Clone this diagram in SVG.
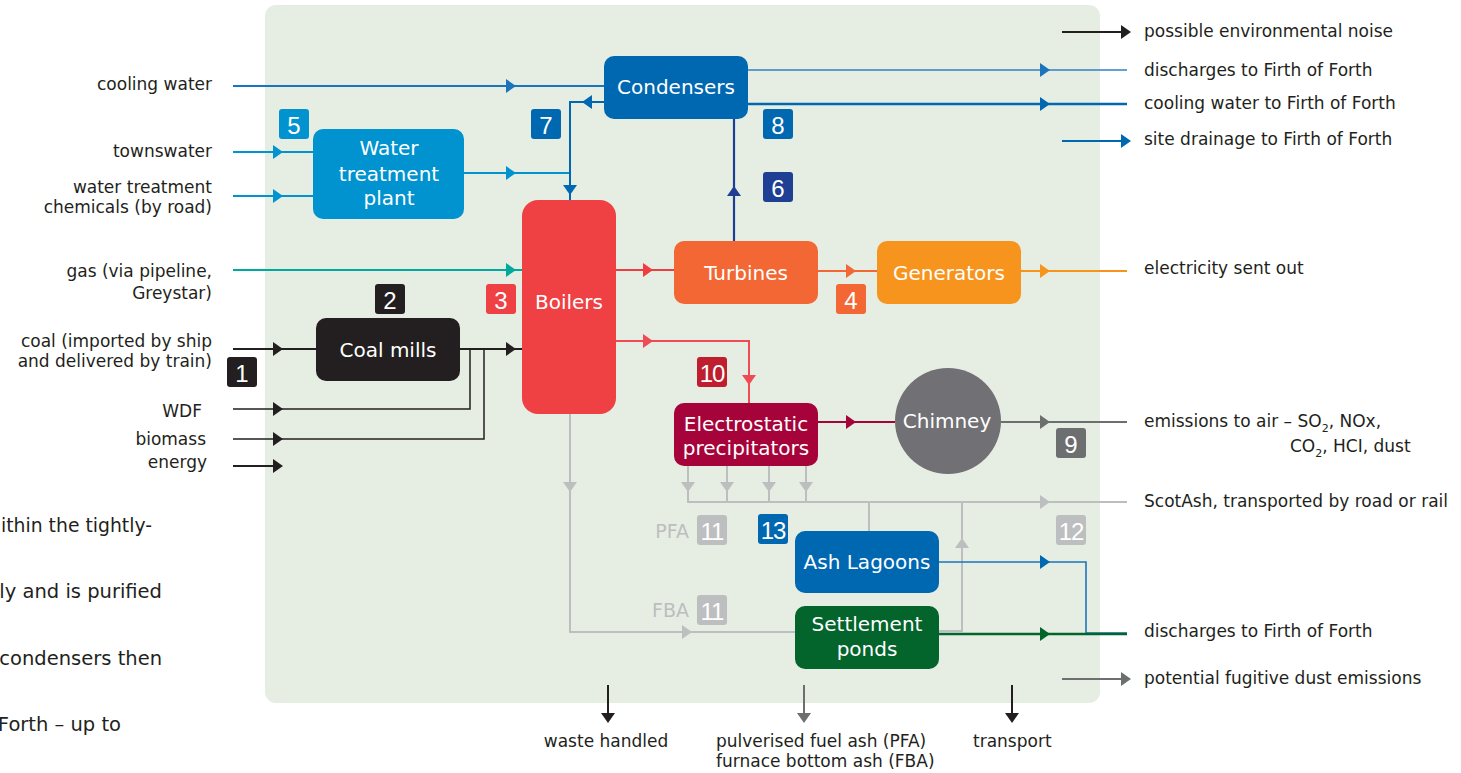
<svg xmlns="http://www.w3.org/2000/svg" xmlns:xlink="http://www.w3.org/1999/xlink" width="1461" height="773" viewBox="0 0 1461 773">
<style>
.t{font-family:"DejaVu Sans","Liberation Sans",sans-serif;font-size:17px;fill:#231f20}
.p{font-family:"DejaVu Sans","Liberation Sans",sans-serif;font-size:19.5px;fill:#231f20}
.n{font-family:"DejaVu Sans","Liberation Sans",sans-serif;font-size:20px;fill:#ffffff;text-anchor:middle}
.b{font-family:"Liberation Sans","DejaVu Sans",sans-serif;font-size:24px;fill:#ffffff;text-anchor:middle}
.g{font-family:"DejaVu Sans","Liberation Sans",sans-serif;font-size:19px;fill:#bcbec0;text-anchor:end}
.e{text-anchor:end}
.ln{fill:none;stroke-width:2}
</style>
<defs>
<path id="ah" d="M0,0 L-10,-7 L-10,7 Z"/>
</defs>
<rect x="265" y="5" width="835" height="698" rx="11" fill="#e6eee3"/>

<g id="side-text">
<text class="p" x="1" y="532" textLength="151" lengthAdjust="spacingAndGlyphs">ithin the tightly-</text>
<text class="p e" x="162" y="598">ly and is purified</text>
<text class="p e" x="162" y="665">condensers then</text>
<text class="p e" x="121" y="731">Forth – up to</text>
</g>

<g id="connectors">
<line class="ln" x1="233" y1="86" x2="604" y2="86" stroke="#1a75bc"/>
<use xlink:href="#ah" transform="translate(516,86)" fill="#1a75bc"/>
<line class="ln" x1="233" y1="152" x2="313" y2="152" stroke="#0093d0"/>
<use xlink:href="#ah" transform="translate(283,152)" fill="#0093d0"/>
<line class="ln" x1="233" y1="196" x2="313" y2="196" stroke="#0093d0"/>
<use xlink:href="#ah" transform="translate(283,196)" fill="#0093d0"/>
<line class="ln" x1="464" y1="173" x2="570" y2="173" stroke="#0093d0"/>
<use xlink:href="#ah" transform="translate(516,173)" fill="#0093d0"/>
<polyline class="ln" points="604,102 570,102 570,200" stroke="#0067b1"/>
<use xlink:href="#ah" transform="translate(582,102) rotate(180)" fill="#0067b1"/>
<use xlink:href="#ah" transform="translate(570,195) rotate(90)" fill="#0067b1"/>
<line x1="748" y1="70" x2="1127" y2="70" stroke="#2f82c4" stroke-width="1.6"/>
<use xlink:href="#ah" transform="translate(1050,70)" fill="#1a75bc"/>
<line x1="748" y1="104" x2="1127" y2="104" stroke="#0067b1" stroke-width="2.4"/>
<use xlink:href="#ah" transform="translate(1050,104)" fill="#0067b1"/>
<line x1="1062" y1="32" x2="1125" y2="32" stroke="#231f20" stroke-width="2"/>
<use xlink:href="#ah" transform="translate(1131,32)" fill="#231f20"/>
<line x1="1062" y1="141" x2="1125" y2="141" stroke="#0067b1" stroke-width="2"/>
<use xlink:href="#ah" transform="translate(1131,141)" fill="#0067b1"/>
<line x1="734" y1="118" x2="734" y2="241" stroke="#1e3f94" stroke-width="2.2"/>
<use xlink:href="#ah" transform="translate(734,186) rotate(-90)" fill="#1e3f94"/>
<line class="ln" x1="233" y1="270" x2="522" y2="270" stroke="#00a99d"/>
<use xlink:href="#ah" transform="translate(516,270)" fill="#00a99d"/>
<line class="ln" x1="616" y1="270" x2="674" y2="270" stroke="#ef3e42"/>
<use xlink:href="#ah" transform="translate(653,270)" fill="#ef3e42"/>
<line class="ln" x1="818" y1="271" x2="877" y2="271" stroke="#f26734"/>
<use xlink:href="#ah" transform="translate(856,271)" fill="#f26734"/>
<line class="ln" x1="1021" y1="271" x2="1127" y2="271" stroke="#f7941d"/>
<use xlink:href="#ah" transform="translate(1050,271)" fill="#f7941d"/>
<polyline class="ln" points="616,341 749,341 749,403" stroke="#ef4b55"/>
<use xlink:href="#ah" transform="translate(653,341)" fill="#ef4b55"/>
<use xlink:href="#ah" transform="translate(749,385) rotate(90)" fill="#ef4b55"/>
<line class="ln" x1="233" y1="349" x2="316" y2="349" stroke="#231f20"/>
<use xlink:href="#ah" transform="translate(283,349)" fill="#231f20"/>
<line class="ln" x1="460" y1="349" x2="522" y2="349" stroke="#231f20"/>
<use xlink:href="#ah" transform="translate(516,349)" fill="#231f20"/>
<polyline points="233,409 470,409 470,349" fill="none" stroke="#231f20" stroke-width="1.5"/>
<use xlink:href="#ah" transform="translate(283,409)" fill="#231f20"/>
<polyline points="233,439 484,439 484,349" fill="none" stroke="#231f20" stroke-width="1.5"/>
<use xlink:href="#ah" transform="translate(283,439)" fill="#231f20"/>
<line x1="233" y1="466" x2="276" y2="466" stroke="#231f20" stroke-width="2"/>
<use xlink:href="#ah" transform="translate(283,466)" fill="#231f20"/>
<line class="ln" x1="818" y1="422" x2="895" y2="422" stroke="#a6033a"/>
<use xlink:href="#ah" transform="translate(856,422)" fill="#a6033a"/>
<line class="ln" x1="1001" y1="422" x2="1127" y2="422" stroke="#6d6e70"/>
<use xlink:href="#ah" transform="translate(1050,422)" fill="#6d6e70"/>
<g stroke="#bcbec0" stroke-width="2" fill="none">
<polyline points="570,414 570,632 795,632"/>
<line x1="688" y1="466" x2="688" y2="502"/>
<line x1="727" y1="466" x2="727" y2="502"/>
<line x1="769" y1="466" x2="769" y2="502"/>
<line x1="806" y1="466" x2="806" y2="502"/>
<line x1="687" y1="502" x2="1127" y2="502"/>
<line x1="869" y1="502" x2="869" y2="531"/>
<polyline points="939,631 962,631 962,502"/>
</g>
<g fill="#bcbec0">
<use xlink:href="#ah" transform="translate(570,492) rotate(90)"/>
<use xlink:href="#ah" transform="translate(688,492) rotate(90)"/>
<use xlink:href="#ah" transform="translate(727,492) rotate(90)"/>
<use xlink:href="#ah" transform="translate(769,492) rotate(90)"/>
<use xlink:href="#ah" transform="translate(806,492) rotate(90)"/>
<use xlink:href="#ah" transform="translate(1050,502)"/>
<use xlink:href="#ah" transform="translate(692,632)"/>
<use xlink:href="#ah" transform="translate(962,538) rotate(-90)"/>
</g>
<polyline points="939,562 1086,562 1086,633 1127,633" fill="none" stroke="#1a75bc" stroke-width="1.6"/>
<use xlink:href="#ah" transform="translate(1050,562)" fill="#0067b1"/>
<line x1="939" y1="634" x2="1127" y2="634" stroke="#03642c" stroke-width="2.4"/>
<use xlink:href="#ah" transform="translate(1050,634)" fill="#03642c"/>
<line x1="1062" y1="679" x2="1125" y2="679" stroke="#6d6e70" stroke-width="2"/>
<use xlink:href="#ah" transform="translate(1131,679)" fill="#6d6e70"/>
<line x1="608" y1="685" x2="608" y2="716" stroke="#231f20" stroke-width="2"/>
<use xlink:href="#ah" transform="translate(608,723) rotate(90)" fill="#231f20"/>
<line x1="804" y1="685" x2="804" y2="716" stroke="#6d6e70" stroke-width="2"/>
<use xlink:href="#ah" transform="translate(804,723) rotate(90)" fill="#6d6e70"/>
<line x1="1012" y1="685" x2="1012" y2="716" stroke="#231f20" stroke-width="2"/>
<use xlink:href="#ah" transform="translate(1012,723) rotate(90)" fill="#231f20"/>
</g>

<g id="node-wtp"><rect x="313" y="129" width="151" height="90" rx="10" fill="#0093d0"/>
<text class="n" x="389" y="155">Water</text><text class="n" x="389" y="181">treatment</text><text class="n" x="389" y="205">plant</text></g>
<g id="node-condensers"><rect x="604" y="56" width="144" height="63" rx="10" fill="#0067b1"/>
<text class="n" x="676" y="94">Condensers</text></g>
<g id="node-boilers"><rect x="522" y="200" width="94" height="214" rx="16" fill="#ef4044"/>
<text class="n" x="569" y="309">Boilers</text></g>
<g id="node-turbines"><rect x="674" y="241" width="144" height="63" rx="10" fill="#f26734"/>
<text class="n" x="746" y="280">Turbines</text></g>
<g id="node-generators"><rect x="877" y="241" width="144" height="63" rx="10" fill="#f7941d"/>
<text class="n" x="949" y="280">Generators</text></g>
<g id="node-coalmills"><rect x="316" y="318" width="144" height="63" rx="10" fill="#231f20"/>
<text class="n" x="388" y="357">Coal mills</text></g>
<g id="node-esp"><rect x="674" y="403" width="144" height="63" rx="10" fill="#a6033a"/>
<text class="n" x="746" y="431">Electrostatic</text><text class="n" x="746" y="455">precipitators</text></g>
<g id="node-chimney"><circle cx="948" cy="421" r="53" fill="#717074"/>
<text class="n" x="947" y="428">Chimney</text></g>
<g id="node-ashlagoons"><rect x="795" y="531" width="144" height="62" rx="10" fill="#0067b1"/>
<text class="n" x="867" y="569">Ash Lagoons</text></g>
<g id="node-settlement"><rect x="795" y="606" width="144" height="63" rx="10" fill="#03642c"/>
<text class="n" x="867" y="631">Settlement</text><text class="n" x="867" y="656">ponds</text></g>

<g id="badges">
<rect x="279" y="109" width="30" height="30" rx="3" fill="#0093d0"/><text class="b" x="294" y="134">5</text>
<rect x="531" y="109" width="30" height="30" rx="3" fill="#0067b1"/><text class="b" x="546" y="134">7</text>
<rect x="763" y="109" width="30" height="30" rx="3" fill="#0067b1"/><text class="b" x="778" y="134">8</text>
<rect x="763" y="172" width="30" height="30" rx="3" fill="#1e3f94"/><text class="b" x="778" y="197">6</text>
<rect x="375" y="284" width="30" height="30" rx="3" fill="#231f20"/><text class="b" x="390" y="309">2</text>
<rect x="486" y="284" width="30" height="30" rx="3" fill="#ef4044"/><text class="b" x="501" y="309">3</text>
<rect x="836" y="284" width="30" height="30" rx="3" fill="#f26734"/><text class="b" x="851" y="309">4</text>
<rect x="227" y="357" width="30" height="30" rx="3" fill="#231f20"/><text class="b" x="242" y="382">1</text>
<rect x="697" y="357" width="30" height="30" rx="3" fill="#be1e2d"/><text class="b" x="712" y="382" letter-spacing="-1">10</text>
<rect x="1056" y="428" width="30" height="30" rx="3" fill="#6d6e70"/><text class="b" x="1071" y="453">9</text>
<rect x="697" y="515" width="30" height="30" rx="3" fill="#bcbec0"/><text class="b" x="712" y="540" letter-spacing="-1">11</text>
<rect x="758" y="514" width="30" height="30" rx="3" fill="#0067b1"/><text class="b" x="773" y="539" letter-spacing="-1">13</text>
<rect x="1056" y="515" width="30" height="30" rx="3" fill="#bcbec0"/><text class="b" x="1071" y="540" letter-spacing="-1">12</text>
<rect x="697" y="595" width="30" height="30" rx="3" fill="#bcbec0"/><text class="b" x="712" y="620" letter-spacing="-1">11</text>
<text class="g" x="689" y="538">PFA</text>
<text class="g" x="689" y="617">FBA</text>
</g>

<g id="inputs">
<text class="t e" x="212" y="90">cooling water</text>
<text class="t e" x="212" y="157">townswater</text>
<text class="t e" x="212" y="193">water treatment</text>
<text class="t e" x="212" y="213">chemicals (by road)</text>
<text class="t e" x="212" y="277">gas (via pipeline,</text>
<text class="t e" x="212" y="299">Greystar)</text>
<text class="t e" x="212" y="347">coal (imported by ship</text>
<text class="t e" x="212" y="367">and delivered by train)</text>
<text class="t e" x="202" y="417">WDF</text>
<text class="t e" x="206" y="445">biomass</text>
<text class="t e" x="207" y="468">energy</text>
</g>

<g id="outputs">
<text class="t" x="1144" y="37">possible environmental noise</text>
<text class="t" x="1144" y="76">discharges to Firth of Forth</text>
<text class="t" x="1144" y="109">cooling water to Firth of Forth</text>
<text class="t" x="1144" y="145">site drainage to Firth of Forth</text>
<text class="t" x="1144" y="274">electricity sent out</text>
<text class="t" x="1144" y="427">emissions to air – SO<tspan font-size="11" dy="5">2</tspan><tspan dy="-5">, NOx,</tspan></text>
<text class="t" x="1290" y="452">CO<tspan font-size="11" dy="5">2</tspan><tspan dy="-5">, HCI, dust</tspan></text>
<text class="t" x="1144" y="507">ScotAsh, transported by road or rail</text>
<text class="t" x="1144" y="637">discharges to Firth of Forth</text>
<text class="t" x="1144" y="684">potential fugitive dust emissions</text>
</g>

<g id="legend">
<text class="t" x="606" y="747" text-anchor="middle">waste handled</text>
<text class="t" x="716" y="747">pulverised fuel ash (PFA)</text>
<text class="t" x="716" y="767">furnace bottom ash (FBA)</text>
<text class="t" x="973" y="747">transport</text>
</g>
</svg>
